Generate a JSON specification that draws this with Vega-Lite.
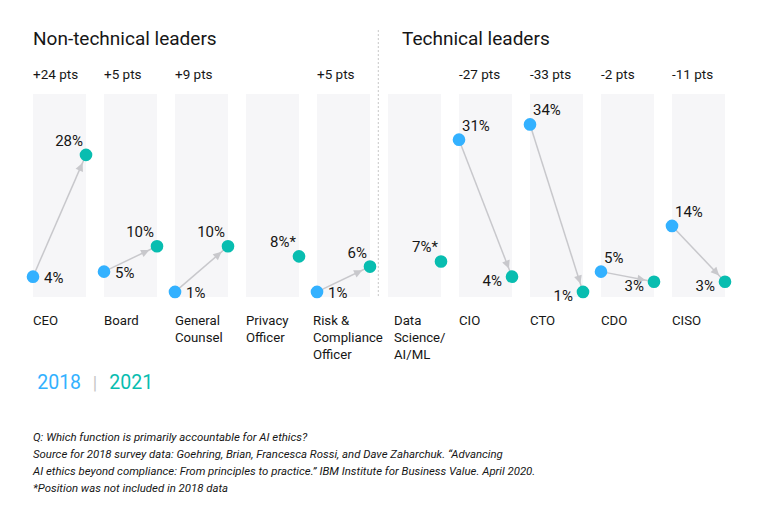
{
  "$schema": "https://vega.github.io/schema/vega-lite/v6.json",
  "width": 692,
  "height": 203,
  "autosize": "none",
  "padding": {"left": 33, "top": 94, "right": 35, "bottom": 233},
  "background": "white",
  "config": {"view": {"stroke": null}, "font": "Roboto", "text": {"font": "Roboto", "color": "#161616"}},
  "data": {"values": [
    {"cat": "CEO", "grp": "non", "v2018": 4, "v2021": 28, "chg": "+24 pts", "l2018": "4%", "l2021": "28%", "lines": ["CEO"]},
    {"cat": "Board", "grp": "non", "v2018": 5, "v2021": 10, "chg": "+5 pts", "l2018": "5%", "l2021": "10%", "lines": ["Board"]},
    {"cat": "General Counsel", "grp": "non", "v2018": 1, "v2021": 10, "chg": "+9 pts", "l2018": "1%", "l2021": "10%", "lines": ["General", "Counsel"]},
    {"cat": "Privacy Officer", "grp": "non", "v2018": null, "v2021": 8, "chg": "", "l2018": "", "l2021": "8%*", "lines": ["Privacy", "Officer"]},
    {"cat": "Risk & Compliance Officer", "grp": "non", "v2018": 1, "v2021": 6, "chg": "+5 pts", "l2018": "1%", "l2021": "6%", "lines": ["Risk &", "Compliance", "Officer"]},
    {"cat": "Data Science/AI/ML", "grp": "tech", "v2018": null, "v2021": 7, "chg": "", "l2018": "", "l2021": "7%*", "lines": ["Data", "Science/", "AI/ML"]},
    {"cat": "CIO", "grp": "tech", "v2018": 31, "v2021": 4, "chg": "-27 pts", "l2018": "31%", "l2021": "4%", "lines": ["CIO"]},
    {"cat": "CTO", "grp": "tech", "v2018": 34, "v2021": 1, "chg": "-33 pts", "l2018": "34%", "l2021": "1%", "lines": ["CTO"]},
    {"cat": "CDO", "grp": "tech", "v2018": 5, "v2021": 3, "chg": "-2 pts", "l2018": "5%", "l2021": "3%", "lines": ["CDO"]},
    {"cat": "CISO", "grp": "tech", "v2018": 14, "v2021": 3, "chg": "-11 pts", "l2018": "14%", "l2021": "3%", "lines": ["CISO"]}
  ]},
  "layer": [
    {
      "mark": {"type": "bar", "color": "#f6f6f8"},
      "encoding": {
        "x": {"field": "cat", "type": "nominal", "sort": null, "scale": {"paddingInner": 0.2535, "paddingOuter": 0}, "axis": null},
        "y": {"datum": 40, "type": "quantitative", "scale": {"domain": [0, 40], "nice": false, "zero": false}, "axis": null},
        "y2": {"datum": 0}
      }
    },
    {
      "data": {"values": [{}]},
      "mark": {"type": "rule", "color": "#c6c6c6", "strokeDash": [2, 2], "strokeWidth": 1},
      "encoding": {
        "x": {"datum": "Data Science/AI/ML", "bandPosition": -0.183},
        "y": {"datum": 52.6, "type": "quantitative"},
        "y2": {"datum": 0}
      }
    },
    {
      "transform": [{"filter": "datum.v2018 != null"}],
      "mark": {"type": "rule", "color": "#c8c8cc", "strokeWidth": 1.5},
      "encoding": {
        "x": {"field": "cat", "type": "nominal", "sort": null, "bandPosition": 0},
        "x2": {"field": "cat", "bandPosition": 1},
        "y": {"field": "v2018", "type": "quantitative"},
        "y2": {"field": "v2021"}
      }
    },
    {
      "transform": [{"filter": "datum.v2018 != null"}],
      "mark": {"type": "point", "filled": true, "opacity": 1, "color": "#c8c8cc", "size": 1600,
        "shape": "M -0.425 0 L -0.84 -0.2 L -0.84 0.2 Z",
        "angle": {"expr": "atan2(scale('y', datum.v2021) - scale('y', datum.v2018), bandwidth('x')) * 180 / PI"}},
      "encoding": {
        "x": {"field": "cat", "type": "nominal", "sort": null, "bandPosition": 1},
        "y": {"field": "v2021", "type": "quantitative"}
      }
    },
    {
      "transform": [{"filter": "datum.v2018 != null"}],
      "mark": {"type": "circle", "opacity": 1, "color": "#33b1ff", "size": 160},
      "encoding": {
        "x": {"field": "cat", "type": "nominal", "sort": null, "bandPosition": 0},
        "y": {"field": "v2018", "type": "quantitative"}
      }
    },
    {
      "mark": {"type": "circle", "opacity": 1, "color": "#08bdb0", "size": 160},
      "encoding": {
        "x": {"field": "cat", "type": "nominal", "sort": null, "bandPosition": 1},
        "y": {"field": "v2021", "type": "quantitative"}
      }
    },
    {
      "transform": [{"filter": "datum.v2018 != null && datum.grp == 'non'"}],
      "mark": {"type": "text", "align": "left", "baseline": "middle", "dx": 11, "dy": 1, "fontSize": 15},
      "encoding": {
        "x": {"field": "cat", "type": "nominal", "sort": null, "bandPosition": 0},
        "y": {"field": "v2018", "type": "quantitative"},
        "text": {"field": "l2018"}
      }
    },
    {
      "transform": [{"filter": "datum.v2018 != null && datum.grp == 'tech'"}],
      "mark": {"type": "text", "align": "left", "baseline": "middle", "dx": 3, "dy": -14, "fontSize": 15},
      "encoding": {
        "x": {"field": "cat", "type": "nominal", "sort": null, "bandPosition": 0},
        "y": {"field": "v2018", "type": "quantitative"},
        "text": {"field": "l2018"}
      }
    },
    {
      "transform": [{"filter": "datum.v2018 == null || datum.grp == 'non'"}],
      "mark": {"type": "text", "align": "right", "baseline": "middle", "dx": -3, "dy": -14, "fontSize": 15},
      "encoding": {
        "x": {"field": "cat", "type": "nominal", "sort": null, "bandPosition": 1},
        "y": {"field": "v2021", "type": "quantitative"},
        "text": {"field": "l2021"}
      }
    },
    {
      "transform": [{"filter": "datum.v2018 != null && datum.grp == 'tech'"}],
      "mark": {"type": "text", "align": "right", "baseline": "middle", "dx": -10, "dy": 4, "fontSize": 15},
      "encoding": {
        "x": {"field": "cat", "type": "nominal", "sort": null, "bandPosition": 1},
        "y": {"field": "v2021", "type": "quantitative"},
        "text": {"field": "l2021"}
      }
    },
    {
      "mark": {"type": "text", "align": "left", "baseline": "alphabetic", "fontSize": 13.5},
      "encoding": {
        "x": {"field": "cat", "type": "nominal", "sort": null, "bandPosition": 0},
        "y": {"datum": 42.96, "type": "quantitative"},
        "text": {"field": "chg"}
      }
    },
    {
      "transform": [{"filter": "datum.cat != 'Data Science/AI/ML' && datum.cat != 'Risk & Compliance Officer'"}],
      "mark": {"type": "text", "align": "left", "baseline": "alphabetic", "fontSize": 13.2, "lineHeight": 17},
      "encoding": {
        "x": {"field": "cat", "type": "nominal", "sort": null, "bandPosition": 0},
        "y": {"datum": -5.52, "type": "quantitative"},
        "text": {"field": "lines"}
      }
    },
    {
      "transform": [{"filter": "datum.cat == 'Risk & Compliance Officer'"}],
      "mark": {"type": "text", "align": "left", "baseline": "alphabetic", "fontSize": 13.2, "lineHeight": 17, "dx": -4},
      "encoding": {
        "x": {"field": "cat", "type": "nominal", "sort": null, "bandPosition": 0},
        "y": {"datum": -5.52, "type": "quantitative"},
        "text": {"field": "lines"}
      }
    },
    {
      "transform": [{"filter": "datum.cat == 'Data Science/AI/ML'"}],
      "mark": {"type": "text", "align": "left", "baseline": "alphabetic", "fontSize": 13.2, "lineHeight": 17, "dx": 6},
      "encoding": {
        "x": {"field": "cat", "type": "nominal", "sort": null, "bandPosition": 0},
        "y": {"datum": -5.52, "type": "quantitative"},
        "text": {"field": "lines"}
      }
    },
    {
      "data": {"values": [{}]},
      "mark": {"type": "text", "align": "left", "baseline": "alphabetic", "fontSize": 19, "text": "Non-technical leaders"},
      "encoding": {
        "x": {"datum": "CEO", "bandPosition": 0},
        "y": {"datum": 49.66, "type": "quantitative"}
      }
    },
    {
      "data": {"values": [{}]},
      "mark": {"type": "text", "align": "left", "baseline": "alphabetic", "fontSize": 19, "text": "Technical leaders"},
      "encoding": {
        "x": {"datum": "Data Science/AI/ML", "bandPosition": 0.264},
        "y": {"datum": 49.66, "type": "quantitative"}
      }
    },
    {
      "data": {"values": [{}]},
      "mark": {"type": "text", "align": "left", "baseline": "alphabetic", "fontSize": 19.5, "color": "#33b1ff", "text": "2018"},
      "encoding": {
        "x": {"datum": "CEO", "bandPosition": 0.08},
        "y": {"datum": -18.13, "type": "quantitative"}
      }
    },
    {
      "data": {"values": [{}]},
      "mark": {"type": "text", "align": "center", "baseline": "alphabetic", "fontSize": 18, "color": "#c6c6c6", "text": "|"},
      "encoding": {
        "x": {"datum": "Board", "bandPosition": -0.17},
        "y": {"datum": -18.13, "type": "quantitative"}
      }
    },
    {
      "data": {"values": [{}]},
      "mark": {"type": "text", "align": "left", "baseline": "alphabetic", "fontSize": 19.5, "color": "#08bdb0", "text": "2021"},
      "encoding": {
        "x": {"datum": "Board", "bandPosition": 0.1},
        "y": {"datum": -18.13, "type": "quantitative"}
      }
    },
    {
      "data": {"values": [{}]},
      "mark": {"type": "text", "align": "left", "baseline": "alphabetic", "fontSize": 11.4, "fontStyle": "italic", "lineHeight": 17,
        "text": ["Q: Which function is primarily accountable for AI ethics?", "Source for 2018 survey data: Goehring, Brian, Francesca Rossi, and Dave Zaharchuk. \u201cAdvancing", "AI ethics beyond compliance: From principles to practice.\u201d IBM Institute for Business Value. April 2020.", "*Position was not included in 2018 data"]},
      "encoding": {
        "x": {"datum": "CEO", "bandPosition": 0},
        "y": {"datum": -28.37, "type": "quantitative"}
      }
    }
  ]
}
